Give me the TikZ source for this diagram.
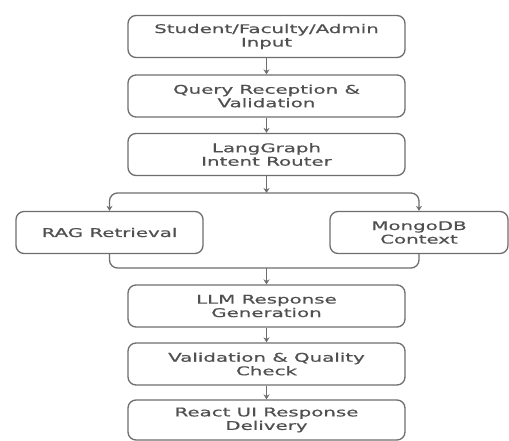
\documentclass[tikz,border=0pt]{standalone}
\usepackage{fontspec}
\newfontfamily\boxfont[FakeStretch=1.65,FakeBold=0.6]{DejaVu Sans}
\usetikzlibrary{arrows.meta}

\definecolor{boxgray}{HTML}{6E6E6E}
\definecolor{textgray}{HTML}{505050}

\tikzset{
  stage/.style={draw=boxgray, line width=1.3pt, rounded corners=8pt,
    minimum width=277pt, minimum height=42pt, inner sep=0pt,
    align=center, text=textgray, font=\boxfont\fontsize{12pt}{13.5pt}\selectfont},
  link/.style={draw=boxgray, line width=1.3pt},
  flow/.style={link, -{Stealth[length=5pt,width=6pt]}},
}

\begin{document}
\begin{tikzpicture}[x=1pt,y=-1pt]
   \useasboundingbox (0,0) rectangle (509,441);
   \fill[white] (0,0) rectangle (509,441);

% main column
   \node[stage] (input)  at (266.5,36.5) {Student/Faculty/Admin\\Input};
   \node[stage] (query)  at (266.5,96)   {Query Reception \&\\Validation};
   \node[stage] (router) at (266.5,154.5) {LangGraph\\Intent Router};

% two sources side by side
   \node[stage, minimum width=187pt] (rag)   at (109.5,232.5) {RAG Retrieval};
   \node[stage, minimum width=178pt] (mongo) at (419,232.5)   {MongoDB\\Context};

   \node[stage] (llm)   at (266.5,306) {LLM Response\\Generation};
   \node[stage] (check) at (266.5,364) {Validation \& Quality\\Check};
   \node[stage, minimum height=40pt] (ui) at (266.5,420) {React UI Response\\Delivery};

   \coordinate (split) at (266.5,193);
   \coordinate (join)  at (266.5,268);

% connectors
   \draw[flow] (input) -- (query);
   \draw[flow] (query) -- (router);
   \draw[flow] (router) -- (split);
   \draw[flow, rounded corners=8pt] (split) -| (rag);
   \draw[flow, rounded corners=8pt] (split) -| (mongo);
   \draw[link, rounded corners=8pt] (rag) |- (join) -| (mongo);
   \draw[flow] (join) -- (llm);
   \draw[flow] (llm) -- (check);
   \draw[flow] (check) -- (ui);

\end{tikzpicture}
\end{document}
